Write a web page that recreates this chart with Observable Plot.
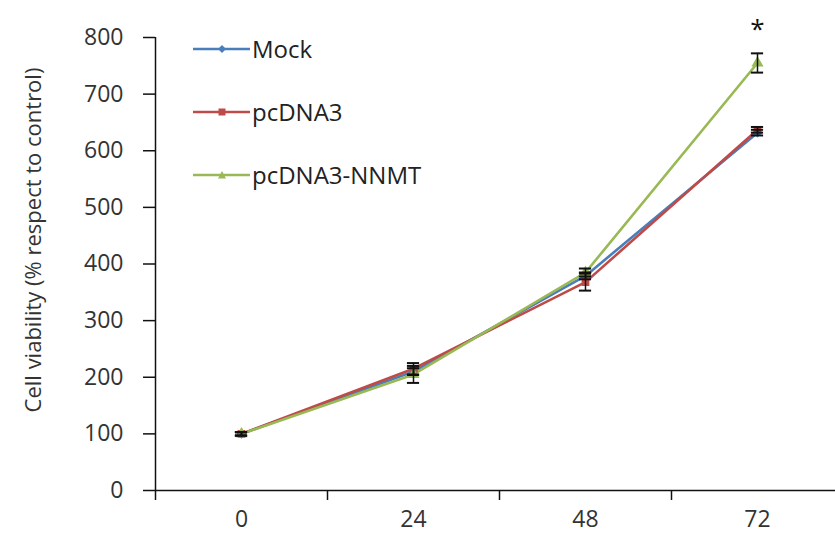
<!DOCTYPE html>
<html><head><meta charset="utf-8">
<script src="https://cdn.jsdelivr.net/npm/d3@7"></script>
<script src="https://cdn.jsdelivr.net/npm/@observablehq/plot@0.6"></script>
<style>
html,body{margin:0;padding:0;background:#fff;}
#wrap{position:relative;width:835px;height:536px;overflow:hidden;font-family:"Open Sans",sans-serif;}
#legend{position:absolute;left:193px;top:32px;}
.item{position:absolute;left:0;display:flex;align-items:center;white-space:nowrap;font-size:24px;color:#222;}
.item svg{margin-right:2px;}
#ylab{position:absolute;left:32px;top:240px;transform:translate(-50%,-50%) rotate(-90deg);font-size:22px;color:#333;white-space:nowrap;}
</style></head>
<body><div id="wrap"><div id="chart"></div><div id="legend"></div><div id="ylab">Cell viability (% respect to control)</div></div>
<script>
const hours = [0, 24, 48, 72];
const seriesNames = ["Mock", "pcDNA3", "pcDNA3-NNMT"];
const mockValues = [100, 210, 379, 632];
const mockErrors = [3, 6, 6, 5];
const pcValues = [100, 215, 368, 637];
const pcErrors = [3, 10, 15, 5];
const nnmtValues = [100, 205, 385, 755];
const nnmtErrors = [3, 15, 7, 17];
const nnmtSignif = ["", "", "", "*"];
const yTicks = [0, 100, 200, 300, 400, 500, 600, 700, 800];
const xLabelTicks = [0, 24, 48, 72];
const xBoundaryTicks = [-12, 12, 36, 60];
const colors = ["#4a7ebb", "#be4b48", "#98b954"];
const symbols = ["diamond2", "square", "triangle"];

const rows = [];
const vals = [mockValues, pcValues, nnmtValues];
const errs = [mockErrors, pcErrors, nnmtErrors];
seriesNames.forEach((s, i) => hours.forEach((h, j) => rows.push({series: s, x: h, y: vals[i][j], e: errs[i][j], sig: i === 2 ? nnmtSignif[j] : ""})));

const plot = Plot.plot({
  width: 835, height: 536,
  marginLeft: 155, marginRight: 0, marginTop: 37, marginBottom: 46,
  style: {fontFamily: "Open Sans, sans-serif", fontSize: "23px", color: "#333", overflow: "hidden"},
  x: {domain: [-12, 84], range: [155, 843]},
  y: {domain: [0, 800]},
  color: {domain: seriesNames, range: colors},
  symbol: {domain: seriesNames, range: symbols},
  marks: [
    Plot.axisY({ticks: yTicks, tickSize: 12, tickPadding: 20, label: null, stroke: "#111", strokeWidth: 1.5, fill: "#333"}),
    Plot.axisX({ticks: xBoundaryTicks, tickFormat: () => "", tickSize: 10, label: null, stroke: "#111", strokeWidth: 1.5}),
    Plot.axisX({ticks: xLabelTicks, tickSize: 0, tickPadding: 20, label: null, fill: "#333"}),
    Plot.ruleX([-12], {y1: 0, y2: 800, stroke: "#111", strokeWidth: 1.5}),
    Plot.ruleY([0], {x1: -12, x2: 84, stroke: "#111", strokeWidth: 1.5}),
    Plot.line(rows, {x: "x", y: "y", z: "series", stroke: "series", strokeWidth: 2.6}),
    Plot.dot(rows, {x: "x", y: "y", fill: "series", symbol: "series", r: 3.5, stroke: "series"}),
    Plot.ruleX(rows, {x: "x", y1: d => d.y - d.e, y2: d => d.y + d.e, stroke: "#111", strokeWidth: 1.5}),
    Plot.ruleY(rows, {y: d => d.y + d.e, x1: d => d.x - 0.85, x2: d => d.x + 0.85, stroke: "#111", strokeWidth: 2}),
    Plot.ruleY(rows, {y: d => d.y - d.e, x1: d => d.x - 0.85, x2: d => d.x + 0.85, stroke: "#111", strokeWidth: 2}),
    Plot.text(rows.filter(d => d.sig), {x: "x", y: d => d.y + d.e, text: "sig", dy: -24, fontSize: 26, fill: "#111"})
  ]
});
document.getElementById("chart").appendChild(plot);

const legend = document.getElementById("legend");
const symPaths = {
  "Mock": '<path d="M29,2 L33,6 L29,10 L25,6Z" fill="#4a7ebb"/>',
  "pcDNA3": '<rect x="25.5" y="2.5" width="7" height="7" fill="#be4b48"/>',
  "pcDNA3-NNMT": '<path d="M29,2 L33,9.5 L25,9.5Z" fill="#98b954"/>'
};
seriesNames.forEach((s, i) => {
  const d = document.createElement("div");
  d.className = "item";
  d.style.top = (i * 63) + "px";
  d.innerHTML = `<svg width="57" height="12"><line x1="0" y1="6" x2="57" y2="6" stroke="${colors[i]}" stroke-width="2.6"/>${symPaths[s]}</svg><span>${s}</span>`;
  legend.appendChild(d);
});
</script></body></html>
